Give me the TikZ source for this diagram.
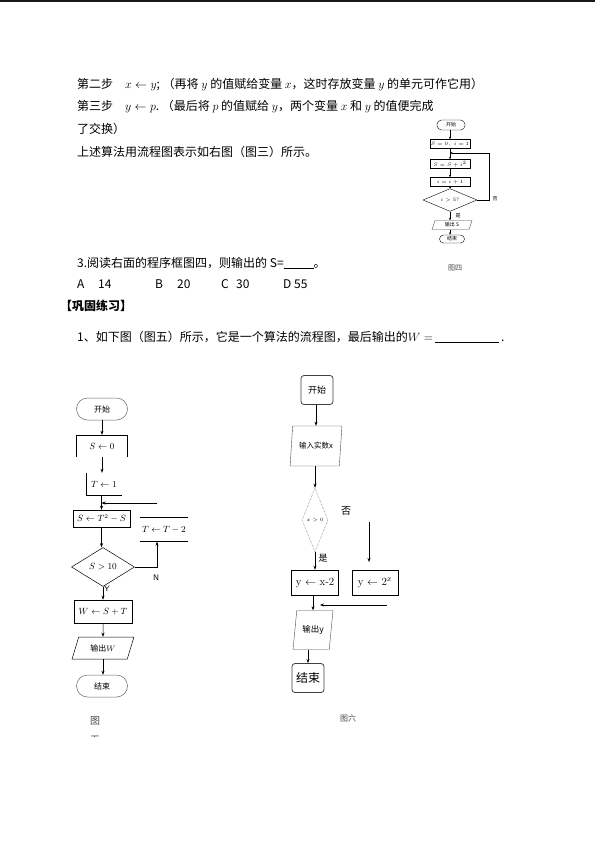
\documentclass[tikz,border=0pt]{standalone}
\usepackage{fontspec}
\newfontfamily\cjk{Noto Sans CJK SC}
\usetikzlibrary{shapes.geometric,arrows.meta,calc}
\begin{document}
\begin{tikzpicture}[x=1pt,y=-1pt,
  txt/.style={anchor=west,inner sep=0pt,font=\cjk\fontsize{12}{13}\selectfont},
  arr/.style={-{Stealth[length=4pt,width=3pt]},line width=0.5pt},
  sarr/.style={-{Stealth[length=2.5pt,width=2pt]},line width=0.4pt},
  lbl/.style={inner sep=0pt,font=\cjk\fontsize{9}{10}\selectfont},
  tlbl/.style={inner sep=0pt,font=\cjk\fontsize{5}{6}\selectfont},
  termL/.style={draw=black!60,line width=0.5pt,rectangle,rounded corners=11pt,minimum width=51pt,minimum height=22pt,inner sep=0pt,font=\cjk\fontsize{8}{9}\selectfont},
  boxL/.style={rectangle,inner sep=0pt,font=\fontsize{9}{10}\selectfont},
  ioL/.style={draw,line width=0.5pt,trapezium,trapezium left angle=65,trapezium right angle=115,trapezium stretches=true,minimum width=62pt,minimum height=22pt,inner sep=0pt,font=\cjk\fontsize{8}{9}\selectfont},
  rbox/.style={draw=black!75,line width=0.8pt,rectangle,rounded corners=3pt,minimum width=32pt,minimum height=29pt,inner sep=0pt},
  boxR/.style={draw,line width=0.6pt,rectangle,minimum width=47pt,minimum height=25pt,inner sep=0pt,font=\rmfamily\fontsize{11}{12}\selectfont},
  ioR/.style={draw=black!70,line width=0.4pt,trapezium,trapezium left angle=75,trapezium right angle=105,trapezium stretches=true,inner sep=0pt},
  tterm/.style={draw,line width=0.4pt,rectangle,rounded corners=4.5pt,minimum width=28pt,minimum height=10pt,inner sep=0pt,font=\cjk\fontsize{5}{6}\selectfont},
  tbox/.style={draw,line width=0.4pt,rectangle,minimum width=40pt,minimum height=9pt,inner sep=0pt,font=\fontsize{5.5}{6}\selectfont},
]
\useasboundingbox (0,0) rectangle (595,841);
\fill[white] (0,0) rectangle (595,841);
\draw[line width=1.5pt,black!90] (0,0.75) -- (595,0.75);

% ---------- main text ----------
\node[txt] (l1) at (77,85) {第二步\quad $x\leftarrow y$;\ （再将 $y$ 的值赋给变量 $x$，这时存放变量 $y$ 的单元可作它用）};
\node[txt] (l2) at (77,107) {第三步\quad $y\leftarrow p$.\ （最后将 $p$ 的值赋给 $y$，两个变量 $x$ 和 $y$ 的值便完成};
\node[txt] (l3) at (77,129) {了交换）};
\node[txt] (l4) at (77,152) {上述算法用流程图表示如右图（图三）所示。};
\node[txt] (l5) at (77,263) {3.阅读右面的程序框图四，则输出的 S=\rule[-1.5pt]{30pt}{0.5pt}。};
\node[txt] (oA) at (77,284) {A};
\node[txt] (oA2) at (98,284) {14};
\node[txt] (oB) at (155,284) {B};
\node[txt] (oB2) at (177,284) {20};
\node[txt] (oC) at (221,284) {C};
\node[txt] (oC2) at (236,284) {30};
\node[txt] (oD) at (283,284) {D 55};
\node[txt,font=\cjk\bfseries\fontsize{12}{13}\selectfont] (hd) at (60,306) {【巩固练习】};
\node[txt] (l6) at (77,337) {1、如下图（图五）所示，它是一个算法的流程图，最后输出的$W=$\,\rule[-1.5pt]{64pt}{0.5pt}\,.};

% ---------- small chart (图四) ----------
\node[tterm] (a1) at (451,125) {开始};
\node[tbox] (a2) at (450,144) {$S=0,\ i=1$};
\node[tbox] (a3) at (450,164) {$S=S+i^2$};
\node[tbox] (a4) at (450,182) {$i=i+1$};
\node[draw,line width=0.4pt,diamond,minimum width=54pt,minimum height=16pt,inner sep=0pt,font=\fontsize{5.5}{6}\selectfont] (a5) at (450,200) {$i>5?$};
\node[ioR,minimum width=40pt,minimum height=9pt,font=\cjk\fontsize{5}{6}\selectfont] (a6) at (452,225) {输出 S};
\node[tterm,minimum width=25pt,minimum height=8pt,rounded corners=4pt] (a7) at (452,239) {结束};
\draw[sarr] (a1.south -| a2.north) -- (a2.north);
\draw[sarr] (a2.south) -- (a3.north);
\draw[sarr] (a3.south) -- (a4.north);
\draw[sarr] (a4.south) -- (a5.north);
\draw[sarr] (a5.south) -- (a5.south |- a6.north);
\draw[sarr] (a5.south |- a6.south) -- (a5.south |- a7.north);
\coordinate (lp) at (489,153);
\draw[sarr] (a5.east) -| (lp) -- (lp -| a3.north);
\node[tlbl] (no4) at (495,199) {否};
\node[tlbl] (yes4) at (458,216) {是};
\node[inner sep=0pt,font=\cjk\fontsize{7}{8}\selectfont,text=black!70] (cap4) at (455,268) {图四};

% ---------- left chart (图五) ----------
\node[termL] (st) at (102,409) {开始};
\node[boxL,minimum width=51pt,minimum height=22pt] (s0) at (102,446) {$S\leftarrow 0$};
\draw[line width=0.5pt] (s0.south west) -- (s0.north west) -- (s0.north east) -- (s0.south east);
\node[boxL,minimum width=36pt,minimum height=22pt] (t1) at (104,484) {$T\leftarrow 1$};
\draw[line width=0.5pt] (t1.north west) -- (t1.south west) -- (t1.south east);
\node[boxL,draw,line width=0.5pt,minimum width=57pt,minimum height=17pt] (s1) at (101.5,518.5) {$S\leftarrow T^2-S$};
\node[boxL,minimum width=48pt,minimum height=24pt] (t2) at (164,529.5) {$T\leftarrow T-2$};
\draw[line width=0.5pt] (t2.north west) -- (t2.north east) (t2.south west) -- (t2.south east);
\node[draw,line width=0.5pt,diamond,minimum width=63pt,minimum height=39pt,inner sep=0pt,font=\fontsize{9}{10}\selectfont] (d1) at (103,567) {$S>10$};
\node[boxL,draw,line width=0.6pt,minimum width=58pt,minimum height=23pt] (w1) at (103,611.5) {$W\leftarrow S+T$};
\node[ioL] (o1) at (103,648) {输出$W$};
\node[termL] (e1) at (102,686) {结束};
\draw[arr] (st.south) -- (s0.north);
\draw[arr] (s0.south) -- (s0.south |- t1.north);
\draw[arr] (t1.south -| s1.north) -- (s1.north);
\coordinate (li) at (157,503);
\draw[arr] (li) -- (li -| s1.north);
\draw[arr] (s1.south) -- (s1.south |- d1.north);
\coordinate (nb) at (157,567);
\draw[arr] (d1.east) -- (nb) -- (nb |- t2.south);
\draw[arr] (d1.south) -- (d1.south |- w1.north);
\draw[arr] (w1.south) -- (o1.north);
\draw[arr] (o1.south) -- (o1.south |- e1.north);
\node[lbl,font=\sffamily\fontsize{8}{9}\selectfont] (nL) at (156,578) {N};
\node[lbl,font=\sffamily\fontsize{8}{9}\selectfont] (yL) at (107,589) {Y};
\node[inner sep=0pt,font=\cjk\fontsize{10}{11}\selectfont,text=black!70] (cap5) at (95,721) {图};
\begin{scope}
\clip (85,732) rectangle (105,736.5);
\node[inner sep=0pt,font=\cjk\fontsize{10}{11}\selectfont,text=black!70] (cap5b) at (95,740) {五};
\end{scope}

% ---------- right chart (图六) ----------
\node[rbox,font=\cjk\fontsize{9}{10}\selectfont] (st2) at (317,390) {开始};
\node[ioR,minimum width=52pt,minimum height=40pt,font=\cjk\fontsize{7.5}{8}\selectfont] (in2) at (316,446) {输入实数x};
\node[draw=black!60,densely dotted,line width=0.5pt,diamond,minimum width=26pt,minimum height=64pt,inner sep=0pt,font=\fontsize{5.5}{6}\selectfont] (d2) at (315,520) {$x>0$};
\node[boxR] (b1) at (315,582.5) {y $\leftarrow$ x-2};
\node[boxR,minimum width=46pt] (b2) at (375,582.5) {y $\leftarrow$ 2$^{x}$};
\node[ioR,minimum width=40pt,minimum height=39pt,font=\cjk\fontsize{8.5}{9}\selectfont] (o2) at (313,630) {输出y};
\node[rbox,font=\cjk\fontsize{12}{13}\selectfont] (e2) at (308,678) {结束};
\draw[arr] (st2.south -| in2.north) -- (in2.north);
\draw[arr] (in2.south -| d2.north) -- (d2.north);
\draw[arr] (d2.south) -- (d2.south |- b1.north);
\coordinate (fa) at (369,522);
\draw[arr] (fa) -- (369,562);
\draw[arr] (b1.south -| o2.north) -- (o2.north);
\coordinate (ha) at (387,605);
\draw[arr] (ha) -- (320,605);
\draw[arr] (e2.north |- o2.south) -- (e2.north);
\node[lbl,font=\cjk\fontsize{10}{11}\selectfont] (noR) at (346,511) {否};
\node[lbl,font=\cjk\fontsize{9}{10}\selectfont] (yesR) at (323,558) {是};
\node[inner sep=0pt,font=\cjk\fontsize{8}{9}\selectfont,text=black!70] (cap6) at (348,718) {图六};
\end{tikzpicture}
\end{document}
